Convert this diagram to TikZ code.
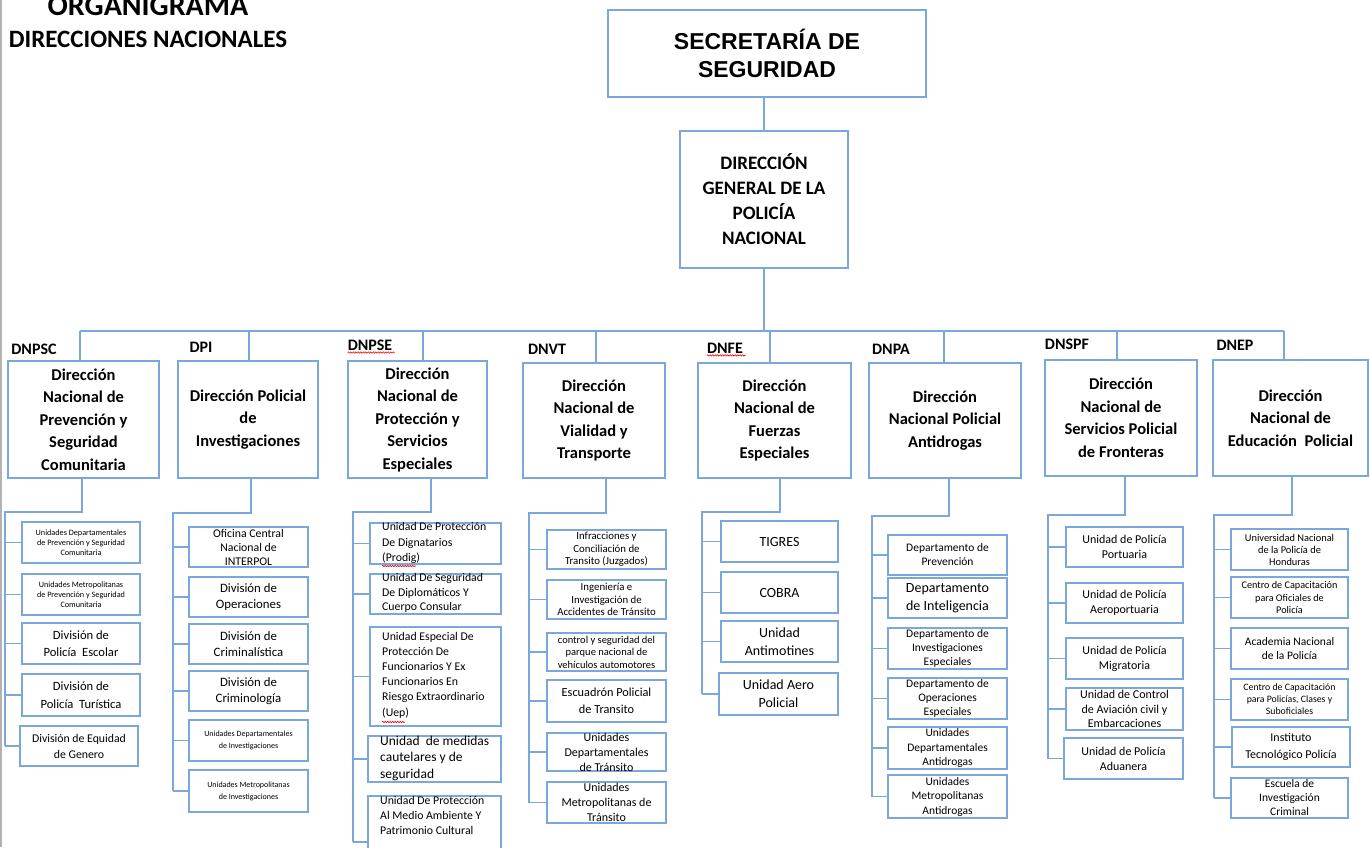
\documentclass[tikz,border=0pt]{standalone}
\usepackage{fontspec}
\setmainfont{Carlito}
\newfontfamily\arialfont{Liberation Sans}
\usetikzlibrary{decorations.pathmorphing}
\definecolor{lb}{RGB}{122,167,220}
\tikzset{
  box/.style={draw=lb, line width=1.3pt, inner sep=0pt, outer sep=0pt},
  conn/.style={draw=lb, line width=1.3pt},
  txt/.style={align=center, inner sep=0pt, text=black},
  txtl/.style={align=left, inner sep=0pt, anchor=west, text=black},
  f/.style 2 args={font=\fontsize{#1}{#2}\selectfont},
  fb/.style 2 args={font=\fontsize{#1}{#2}\selectfont\bfseries},
  lab/.style={inner sep=0pt, font=\fontsize{16}{16}\selectfont\bfseries},
  squig/.style={draw=red, line width=0.6pt, decorate, decoration={snake, amplitude=0.7pt, segment length=2.5pt}},
}
\newcommand\bx[7]{\node[box, minimum width={#4-#2}, minimum height={#5-#3}] (#1) at ({(#2+#4)/2},{(#3+#5)/2}) {};
\node[txt,#6] (#1-t) at (#1.center) {#7};}
\newcommand\bxl[8]{\node[box, minimum width={#4-#2}, minimum height={#5-#3}] (#1) at ({(#2+#4)/2},{(#3+#5)/2}) {};
\node[txtl,#6] (#1-t) at ({#2+12},#8) {#7};}
\begin{document}
\begin{tikzpicture}[x=1pt,y=-1pt]
\fill[white] (0,0) rectangle (1370,847);
\useasboundingbox (0,0) rectangle (1370,847);
\draw[gray!60, line width=2pt] (1,0) -- (1,847);

% titles
\node[inner sep=0pt, anchor=base, font=\fontsize{30}{30}\selectfont\bfseries] (t1) at (148,15) {ORGANIGRAMA};
\node[inner sep=0pt, anchor=base, font=\fontsize{25}{25}\selectfont\bfseries] (t2) at (148,47) {DIRECCIONES NACIONALES};

% top boxes
\bx{sec}{608}{10}{926}{97}{font=\arialfont\fontsize{23}{28}\selectfont\bfseries}{SECRETARÍA DE\\SEGURIDAD}
\bx{dg}{680}{131}{848}{268}{fb={19}{25}}{DIRECCIÓN\\GENERAL DE LA\\POLICÍA\\NACIONAL}
\draw[conn] (dg.north) -- (dg.north |- sec.south);

% headers
\bx{h1}{8}{361}{159}{478}{fb={16.5}{22.5}}{Dirección\\Nacional de\\Prevención y\\Seguridad\\Comunitaria}
\bx{h2}{178}{361}{318}{478}{fb={16.5}{22.5}}{Dirección Policial\\de\\Investigaciones}
\bx{h3}{348}{361}{487}{478}{fb={16.5}{22.5}}{Dirección\\Nacional de\\Protección y\\Servicios\\Especiales}
\bx{h4}{523}{363}{665}{478}{fb={16.5}{22.5}}{Dirección\\Nacional de\\Vialidad y\\Transporte}
\bx{h5}{698}{363}{851}{478}{fb={16.5}{22.5}}{Dirección\\Nacional de\\Fuerzas\\Especiales}
\bx{h6}{869}{363}{1021}{478}{fb={16.5}{22.5}}{Dirección\\Nacional Policial\\Antidrogas}
\bx{h7}{1045}{360}{1197}{476}{fb={16.5}{22.5}}{Dirección\\Nacional de\\Servicios Policial\\de Fronteras}
\bx{h8}{1213}{360}{1368}{476}{fb={16.5}{22.5}}{Dirección\\Nacional de\\Educación\ \ Policial}

\node[lab] (l1) at (34,349) {DNPSC};
\node[lab] (l2) at (201,347) {DPI};
\node[lab] (l3) at (370,345) {DNPSE};
\node[lab] (l4) at (547,349) {DNVT};
\node[lab] (l5) at (725,348) {DNFE};
\node[lab] (l6) at (891,349) {DNPA};
\node[lab] (l7) at (1067,344) {DNSPF};
\node[lab] (l8) at (1235,345) {DNEP};
\draw[squig] (l3.south west) ++(0,2) -- ++(47,0);
\draw[squig] (l5.south west) ++(0,2) -- ++(39,0);

% bus
\coordinate (d1) at (80,331);
\coordinate (d2) at (249,331);
\coordinate (d3) at (423,331);
\coordinate (d4) at (596,331);
\coordinate (d5) at (770,331);
\coordinate (d6) at (944,331);
\coordinate (d7) at (1117,331);
\coordinate (d8) at (1284,331);
\draw[conn] (dg.south) -- (dg.south |- d1);
\draw[conn] (d1) -- (d8);
\foreach \i in {1,...,8} \draw[conn] (d\i) -- (d\i |- h\i.north);

% column 1
\bx{c11}{22}{522}{140}{563}{f={8.2}{10}}{Unidades Departamentales\\de Prevención y Seguridad\\Comunitaria}
\bx{c12}{22}{574}{140}{615}{f={8.2}{10}}{Unidades Metropolitanas\\de Prevención y Seguridad\\Comunitaria}
\bx{c13}{22}{623}{140}{664}{f={12.6}{17.5}}{División de\\Policía\ \ Escolar}
\bx{c14}{22}{674}{140}{716}{f={12.6}{17.5}}{División de\\Policía\ \ Turística}
\bx{c15}{20}{726}{138}{766}{f={11.8}{16}}{División de Equidad\\de Genero}
\coordinate (a1) at (82,512); \coordinate (s1) at (5,512);
\draw[conn] (h1.south -| a1) -- (a1) -- (s1) -- (s1 |- c15.west);
\foreach \c in {c11,c12,c13,c14,c15} \draw[conn] (s1 |- \c.west) -- (\c.west);

% column 2
\bx{c21}{189}{527}{308}{567}{f={11.8}{14}}{Oficina Central\\Nacional de\\INTERPOL}
\bx{c22}{189}{577}{308}{617}{f={12.8}{16}}{División de\\Operaciones}
\bx{c23}{189}{624}{308}{664}{f={12.8}{16}}{División de\\Criminalística}
\bx{c24}{189}{671}{308}{711}{f={12.8}{16}}{División de\\Criminología}
\bx{c25}{189}{720}{308}{761}{f={8}{12}}{Unidades Departamentales\\de Investigaciones}
\bx{c26}{189}{770}{308}{812}{f={8}{12}}{Unidades Metropolitanas\\de Investigaciones}
\coordinate (a2) at (251,513); \coordinate (s2) at (173,513);
\draw[conn] (h2.south -| a2) -- (a2) -- (s2) -- (s2 |- c26.west);
\foreach \c in {c21,c22,c23,c24,c25,c26} \draw[conn] (s2 |- \c.west) -- (\c.west);

% column 3
\bxl{c31}{370}{523}{501}{564}{f={11.8}{15.5}}{Unidad De Protección\\De Dignatarios\\(Prodig)}{543}
\bxl{c32}{370}{574}{501}{614}{f={11.8}{14.5}}{Unidad De Seguridad\\De Diplomáticos Y\\Cuerpo Consular}{593}
\bxl{c33}{370}{627}{501}{726}{f={11.8}{15.2}}{Unidad Especial De\\Protección De\\Funcionarios Y Ex\\Funcionarios En\\Riesgo Extraordinario\\(Uep)}{675}
\bxl{c34}{368}{736}{501}{782}{f={13.5}{16.5}}{Unidad\ \ de medidas\\cautelares y de\\seguridad}{758}
\bxl{c35}{368}{796}{501}{860}{f={11.8}{15}}{Unidad De Protección\\Al Medio Ambiente Y\\Patrimonio Cultural}{815}
\draw[squig] (382,566) -- (416,566);
\draw[squig] (382,722) -- (405,722);
\coordinate (a3) at (431,512); \coordinate (s3) at (353,512);
\draw[conn] (h3.south -| a3) -- (a3) -- (s3) -- (s3 |- 0,842);
\foreach \c in {c31,c32,c33,c34} \draw[conn] (s3 |- \c.west) -- (\c.west);
\draw[conn] (s3 |- 0,842) -- (c35.west |- 0,842);

% column 4
\bx{c41}{547}{530}{666}{569}{f={10.8}{12.5}}{Infracciones y\\Conciliación de\\Transito (Juzgados)}
\bx{c42}{547}{580}{666}{619}{f={10.8}{12.5}}{Ingeniería e\\Investigación de\\Accidentes de Tránsito}
\bx{c43}{547}{633}{666}{671}{f={10.5}{12.5}}{control y seguridad del\\parque nacional de\\vehículos automotores}
\bx{c44}{547}{680}{666}{722}{f={12.3}{16.5}}{Escuadrón Policial\\de Transito}
\bx{c45}{547}{733}{666}{771}{f={12}{15}}{Unidades\\Departamentales\\de Tránsito}
\bx{c46}{547}{782}{666}{823}{f={12}{15}}{Unidades\\Metropolitanas de\\Tránsito}
\coordinate (a4) at (606,513); \coordinate (s4) at (529,513);
\draw[conn] (h4.south -| a4) -- (a4) -- (s4) -- (s4 |- c46.west);
\foreach \c in {c41,c42,c43,c44,c45,c46} \draw[conn] (s4 |- \c.west) -- (\c.west);

% column 5
\bx{c51}{721}{521}{838}{562}{f={14}{18}}{TIGRES}
\bx{c52}{721}{572}{838}{613}{f={14}{18}}{COBRA}
\bx{c53}{721}{621}{838}{662}{f={14}{18}}{Unidad\\Antimotines}
\bx{c54}{719}{673}{838}{715}{f={14}{18}}{Unidad Aero\\Policial}
\coordinate (a5) at (780,512); \coordinate (s5) at (702,512);
\draw[conn] (h5.south -| a5) -- (a5) -- (s5) -- (s5 |- c54.west);
\foreach \c in {c51,c52,c53,c54} \draw[conn] (s5 |- \c.west) -- (\c.west);

% column 6
\bx{c61}{888}{535}{1007}{575}{f={11.5}{14}}{Departamento de\\Prevención}
\bx{c62}{888}{578}{1007}{618}{f={14}{18.5}}{Departamento\\de Inteligencia}
\bx{c63}{888}{628}{1007}{669}{f={11.5}{14.3}}{Departamento de\\Investigaciones\\Especiales}
\bx{c64}{888}{678}{1007}{719}{f={11.5}{14.3}}{Departamento de\\Operaciones\\Especiales}
\bx{c65}{888}{727}{1007}{769}{f={11.5}{14.5}}{Unidades\\Departamentales\\Antidrogas}
\bx{c66}{888}{775}{1007}{818}{f={11.5}{14.5}}{Unidades\\Metropolitanas\\Antidrogas}
\coordinate (a6) at (949,516); \coordinate (s6) at (872,516);
\draw[conn] (h6.south -| a6) -- (a6) -- (s6) -- (s6 |- c66.west);
\foreach \c in {c61,c62,c63,c64,c65,c66} \draw[conn] (s6 |- \c.west) -- (\c.west);

% column 7
\bx{c71}{1066}{527}{1183}{567}{f={12}{15}}{Unidad de Policía\\Portuaria}
\bx{c72}{1066}{583}{1183}{623}{f={12}{15}}{Unidad de Policía\\Aeroportuaria}
\bx{c73}{1066}{638}{1183}{679}{f={12}{15}}{Unidad de Policía\\Migratoria}
\bx{c74}{1066}{688}{1183}{730}{f={12}{14.5}}{Unidad de Control\\de Aviación civil y\\Embarcaciones}
\bx{c75}{1064}{738}{1183}{779}{f={12}{15}}{Unidad de Policía\\Aduanera}
\coordinate (a7) at (1125,515); \coordinate (s7) at (1048,515);
\draw[conn] (h7.south -| a7) -- (a7) -- (s7) -- (s7 |- c75.west);
\foreach \c in {c71,c72,c73,c74,c75} \draw[conn] (s7 |- \c.west) -- (\c.west);

% column 8
\bx{c81}{1231}{529}{1348}{570}{f={10.4}{12}}{Universidad Nacional\\de la Policía de\\Honduras}
\bx{c82}{1231}{577}{1348}{618}{f={10.2}{12.5}}{Centro de Capacitación\\para Oficiales de\\Policía}
\bx{c83}{1231}{628}{1348}{669}{f={11.5}{14.5}}{Academia Nacional\\de la Policía}
\bx{c84}{1231}{679}{1348}{720}{f={9.8}{12}}{Centro de Capacitación\\para Policías, Clases y\\Suboficiales}
\bx{c85}{1232}{727}{1350}{767}{f={12}{17}}{Instituto\\Tecnológico Policía}
\bx{c86}{1231}{778}{1348}{818}{f={11.5}{14}}{Escuela de\\Investigación\\Criminal}
\coordinate (a8) at (1292,515); \coordinate (s8) at (1214,515);
\draw[conn] (h8.south -| a8) -- (a8) -- (s8) -- (s8 |- c86.west);
\foreach \c in {c81,c82,c83,c84,c85,c86} \draw[conn] (s8 |- \c.west) -- (\c.west);
\end{tikzpicture}
\end{document}
